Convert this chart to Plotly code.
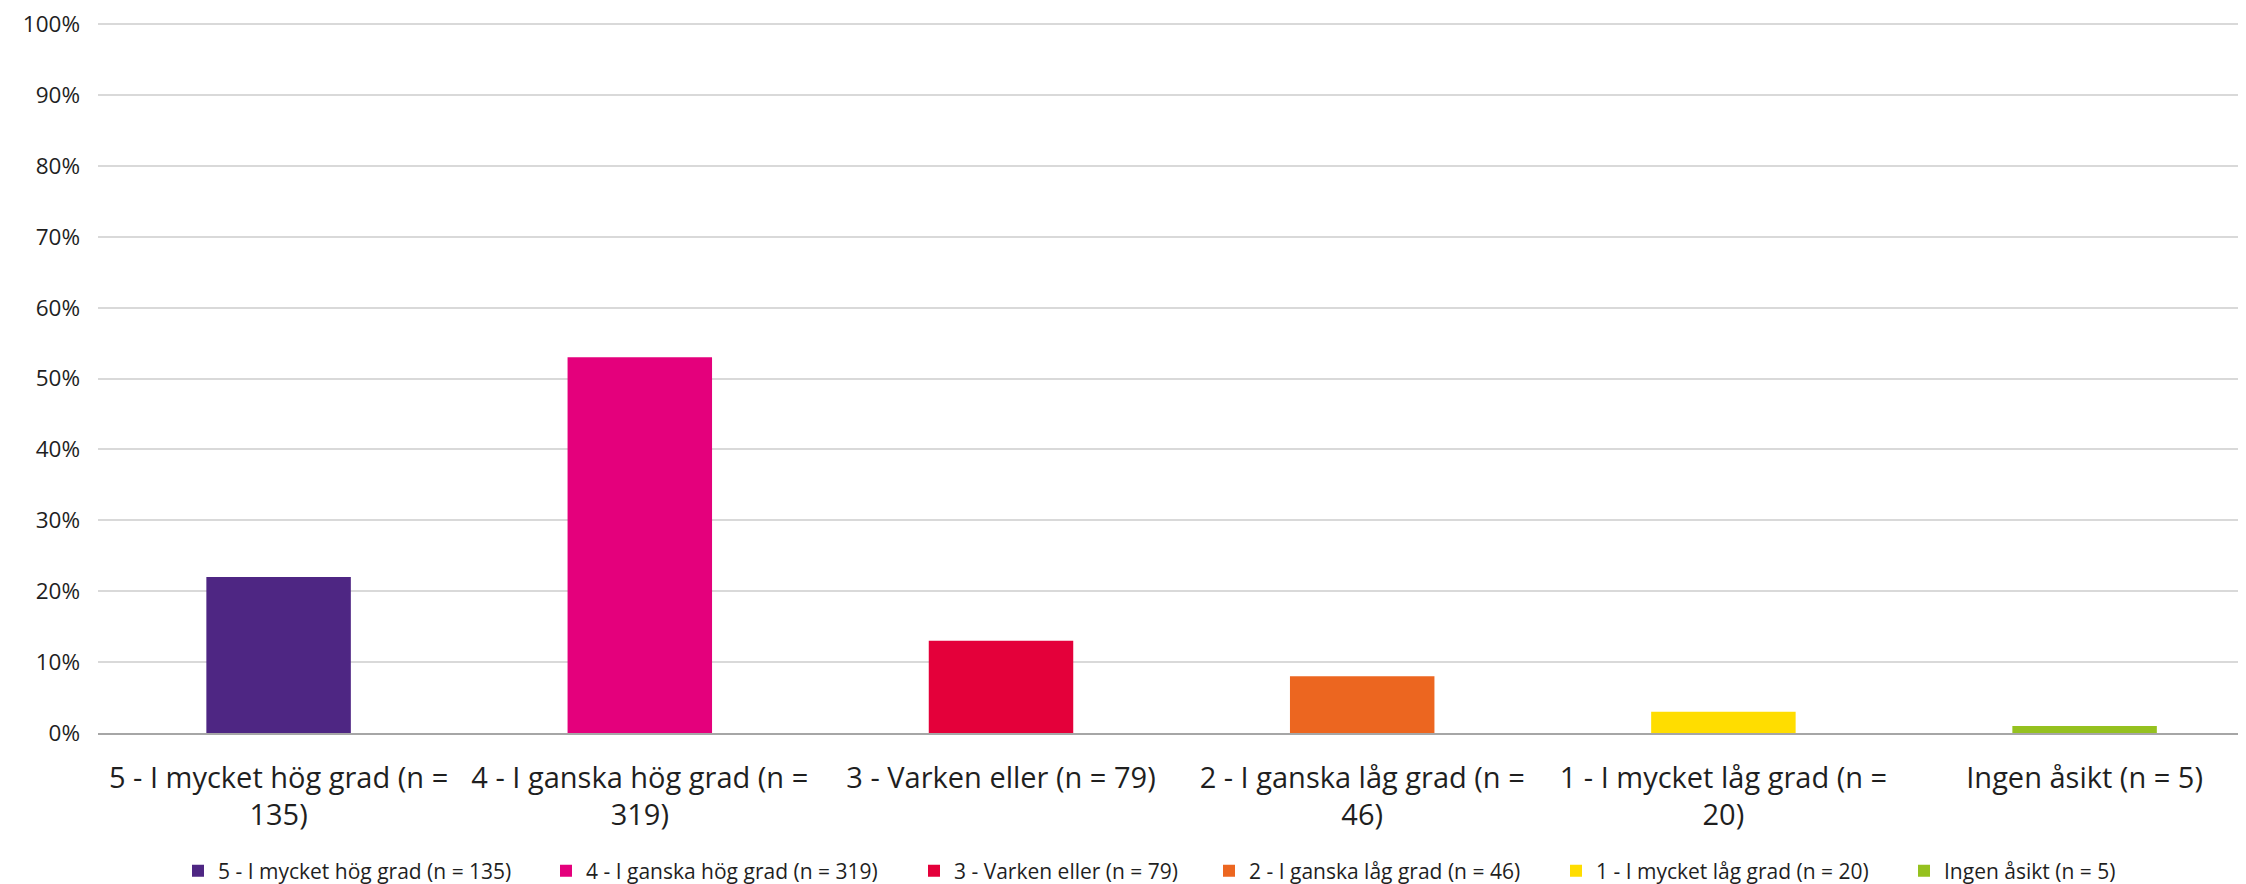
import plotly.graph_objects as go

categories = [
    "5 - I mycket hög grad (n = 135)",
    "4 - I ganska hög grad (n = 319)",
    "3 - Varken eller (n = 79)",
    "2 - I ganska låg grad (n = 46)",
    "1 - I mycket låg grad (n = 20)",
    "Ingen åsikt (n = 5)",
]
tick_labels = [
    "5 - I mycket hög grad (n =<br>135)",
    "4 - I ganska hög grad (n =<br>319)",
    "3 - Varken eller (n = 79)",
    "2 - I ganska låg grad (n =<br>46)",
    "1 - I mycket låg grad (n =<br>20)",
    "Ingen åsikt (n = 5)",
]
values = [22, 53, 13, 8, 3, 1]
colors = ["#4E2683", "#E4007C", "#E4003A", "#EC6620", "#FFDD00", "#95C11F"]
y_ticks = [0, 10, 20, 30, 40, 50, 60, 70, 80, 90, 100]

# legend square left edges in the reference (page pixels)
legend_px = [192, 560, 928, 1223, 1570, 1918]

W, H = 2238, 876          # page body has 8px margin
ML, MT, MB = 90, 15, 151
plot_left_page = 8 + ML
plot_w = W - ML
plot_h = H - MT - MB
legend_center_page = 871
plot_bottom_page = 8 + MT + plot_h

font_family = "'Open Sans', sans-serif"

fig = go.Figure()
legend_names = ["legend"] + [f"legend{i}" for i in range(2, 7)]
for cat, val, col, lg in zip(categories, values, colors, legend_names):
    fig.add_trace(go.Bar(x=[cat], y=[val], name=cat, marker_color=col,
                         marker_line_width=0, legend=lg))

layout_legends = {}
for lg, px in zip(legend_names, legend_px):
    layout_legends[lg] = dict(
        orientation="h",
        x=(px - 14 - plot_left_page) / plot_w, xanchor="left",
        y=-(legend_center_page - plot_bottom_page) / plot_h, yanchor="middle",
        font=dict(size=21, family=font_family, color="#1f1f1f"),
        itemwidth=30, bgcolor="rgba(0,0,0,0)",
    )

fig.update_layout(
    width=W, height=H,
    margin=dict(l=ML, r=0, t=MT, b=MB, autoexpand=False),
    paper_bgcolor="white", plot_bgcolor="white",
    barmode="overlay", bargap=0.6,
    font=dict(family=font_family, color="#1f1f1f"),
    showlegend=True,
    **layout_legends,
)
fig.update_xaxes(
    categoryorder="array", categoryarray=categories,
    tickvals=categories, ticktext=tick_labels,
    range=[-0.5, -0.5 + plot_w / 361.2],
    tickfont=dict(size=29), showgrid=False,
    showline=True, linecolor="#A6A6A6", linewidth=1.5,
    ticks="", ticklabelstandoff=18, ticklabeloverflow="allow",
)
fig.update_yaxes(
    range=[0, 100.15], tickvals=y_ticks,
    ticktext=[f"{v}%" for v in y_ticks],
    tickfont=dict(size=22.5),
    showgrid=True, gridcolor="#D9D9D9", gridwidth=1.5,
    zeroline=False, showline=False, ticks="", ticklabelstandoff=17,
    ticklabeloverflow="allow",
)
fig.write_html("out.html")
